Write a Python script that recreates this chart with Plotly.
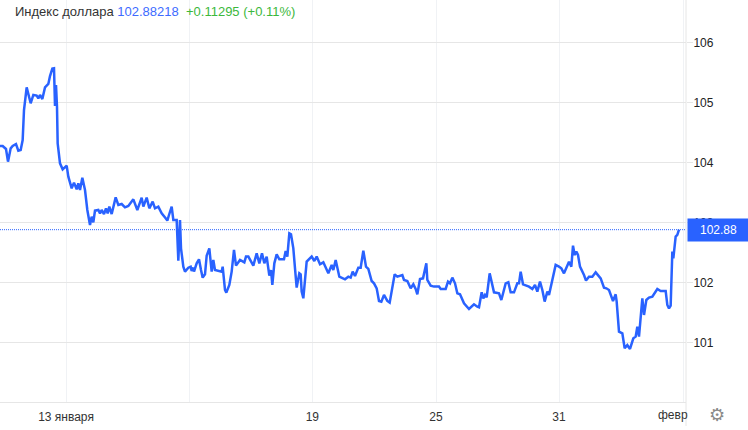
import plotly.graph_objects as go

sessions = [0,8,18,24,32,38,48,55,62,68,72,80,92,100,110,115,120,127,135,145,150,157,162,165,168,171,173,180,188,200,205,215,222,230,235,240,247,255,262,270,275,280,285,295,300,305,312,318,323,328,335,347,355,365,375,385,400,412,425,430,440,448,458,465,475,485,497,502,507,515,520,530,535,540,543,550,555,565,572,575,580,582,590,597,603,608,615,620,628,635,640,645,665,668,675,679,688,695,702,708,720,733,738,745,760,770,778,786,793,800,808,813,817,823,830,838,852,857,862,868,873,880,885,890,898,902,905,910,920,935,943,950,960,970,985,995,1000,1007,1018,1035,1045,1052,1058,1065,1075,1082,1090,1098,1105,1115,1122,1130,1137,1144,1152,1162,1169,1177,1184,1192,1207,1212,1222,1232,1240,1247,1252,1260,1269,1279,1282,1292,1302,1317,1322,1337,1344,1350,1357,1365,1372,1380,1392,1407,1422,1432,1437,1445,1450,1455,1460,1469,1477,1482,1497,1504,1517,1525,1532,1542,1552,1557,1562,1569,1587,1597,1605,1612,1620,1627,1634,1642,1647,1652,1667,1677,1684,1692,1707,1714,1719,1724,1729,1734,1740,1752,1758,1767,1777,1787,1802,1812,1819,1827,1839,1847,1850,1857,1867,1874,1882,1890,1900,1907,1912,1917,1924,1927,1932,1939,1947,1957,1972,1982,1997,2002,2007,2012,2017,2020,2027,2032,2037]
index_values = [104.275,104.275,104.225,104.014,104.236,104.275,104.308,104.197,104.208,104.375,104.875,105.252,104.986,105.125,105.114,105.069,105.125,105.058,105.252,105.308,105.441,105.564,105.569,104.941,105.291,104.930,104.319,103.986,103.886,103.947,103.764,103.569,103.664,103.552,103.652,103.541,103.747,103.541,103.208,102.958,103.097,103.003,103.197,103.208,103.152,103.208,103.141,103.236,103.152,103.264,103.141,103.419,103.291,103.308,103.252,103.275,103.386,103.208,103.414,103.264,103.414,103.236,103.347,103.236,103.264,103.152,103.069,103.031,103.125,103.264,103.042,103.042,102.364,103.042,102.569,102.264,102.181,102.247,102.264,102.192,102.247,102.181,102.319,102.386,102.208,102.081,102.136,102.447,102.569,102.181,102.375,102.208,102.181,102.264,101.875,101.831,101.958,102.181,102.542,102.281,102.375,102.336,102.431,102.431,102.281,102.486,102.319,102.486,102.319,102.431,102.114,102.208,101.958,102.319,102.469,102.386,102.386,102.525,102.431,102.819,102.803,102.569,102.236,101.914,102.153,102.136,101.847,101.736,102.347,102.431,102.358,102.431,102.303,102.336,102.153,102.292,102.208,102.375,102.097,102.053,102.097,102.081,102.181,102.108,102.247,102.247,102.531,102.264,102.225,102.025,101.986,101.903,101.692,101.681,101.792,101.692,101.664,101.958,102.136,102.097,102.125,102.042,102.025,101.903,101.969,101.892,101.803,102.058,102.069,102.319,102.042,101.947,101.931,101.931,101.892,101.892,102.014,101.986,102.081,101.986,101.819,101.803,101.653,101.558,101.636,101.597,101.586,101.836,101.736,101.792,101.753,102.153,101.986,101.836,101.819,101.708,101.986,102.003,101.836,101.836,101.986,101.986,102.181,101.969,101.931,101.892,101.958,101.847,102.014,101.875,101.681,101.847,101.792,101.931,102.292,102.264,102.236,102.153,102.347,102.264,102.614,102.458,102.514,102.458,102.264,102.125,102.031,102.097,102.097,102.169,102.069,101.914,101.903,101.875,101.692,101.803,101.681,101.181,101.153,100.903,100.958,100.892,101.069,101.097,101.264,101.097,101.514,101.736,101.458,101.708,101.747,101.764,101.892,101.858,101.858,101.625,101.569,101.614,102.514,102.403,102.764,102.792,102.882]
x_ticks = [198,568,937,1308,1677,2051]
x_labels = ["13 января","","19","25","31",""]
y_ticks = [100,101,102,103,104,105,106]
y_labels = ["","101","102","103","104","105","106"]
last_value = 102.88
FONT = "Liberation Sans, Arial, sans-serif"
BLUE = "#2962ff"

fig = go.Figure(go.Scatter(x=sessions, y=index_values, mode="lines",
                           line=dict(color=BLUE, width=2.5), hoverinfo="skip"))
fig.update_layout(
    width=748, height=430, margin=dict(l=0, r=62, t=0, b=28),
    paper_bgcolor="white", plot_bgcolor="white", showlegend=False,
    font=dict(family=FONT, size=12, color="#333333"),
    xaxis=dict(range=[0, 2058], tickmode="array", tickvals=x_ticks, ticktext=x_labels,
               showgrid=True, gridcolor="#f0f2f5", gridwidth=1, zeroline=False, ticks="",
               showline=True, linecolor="#e6e6e6", linewidth=1, ticklabelstandoff=4,
               tickfont=dict(size=12, color="#333333")),
    yaxis=dict(range=[100.008, 106.708], side="right", tickmode="array",
               tickvals=y_ticks, ticktext=y_labels, showgrid=True, gridcolor="#e6e6e6",
               gridwidth=1, zeroline=False, ticks="outside", ticklen=6, tickcolor="#e6e6e6",
               showline=False, ticklabelstandoff=-2, tickfont=dict(size=12, color="#222222")),
    shapes=[
        dict(type="rect", xref="paper", yref="paper", x0=0, x1=0.5, y0=1-22/402, y1=1,
             fillcolor="white", line_width=0, layer="below"),
        dict(type="line", xref="paper", yref="paper", x0=1, x1=1, y0=-24/402, y1=1,
             line=dict(color="#e6e6e6", width=1), layer="below"),
        dict(type="line", xref="paper", yref="y", x0=0, x1=1, y0=last_value, y1=last_value,
             line=dict(color=BLUE, width=1, dash="1px,1px"), layer="above"),
    ],
    annotations=[
        dict(xref="paper", yref="paper", x=13/686, y=1-11/402, xanchor="left", yanchor="middle",
             showarrow=False, font=dict(size=13, color="#333333"),
             text=("Индекс доллара <span style='color:#3d6bff'>102.88218</span>"
                   "  <span style='color:#3cb83c'>+0.11295 (+0.11%)</span>")),
        dict(xref="paper", yref="y", x=1.0015, y=last_value, xanchor="left", yanchor="middle",
             showarrow=False, text="102.88", width=61, height=22, bgcolor=BLUE, borderpad=0,
             align="center", font=dict(color="white", size=12)),
        dict(xref="paper", yref="paper", x=656/686, y=-13/402, xanchor="left", yanchor="middle",
             showarrow=False, text="февр", font=dict(size=12, color="#333333")),
        dict(xref="paper", yref="paper", x=717/686, y=-12/402, xanchor="center", yanchor="middle",
             showarrow=False, text="⚙", font=dict(family="DejaVu Sans", size=18, color="#8a8a8a")),
    ],
)
fig.write_html("out.html", config=dict(displayModeBar=False),
               post_script="document.body.style.margin='0';")
